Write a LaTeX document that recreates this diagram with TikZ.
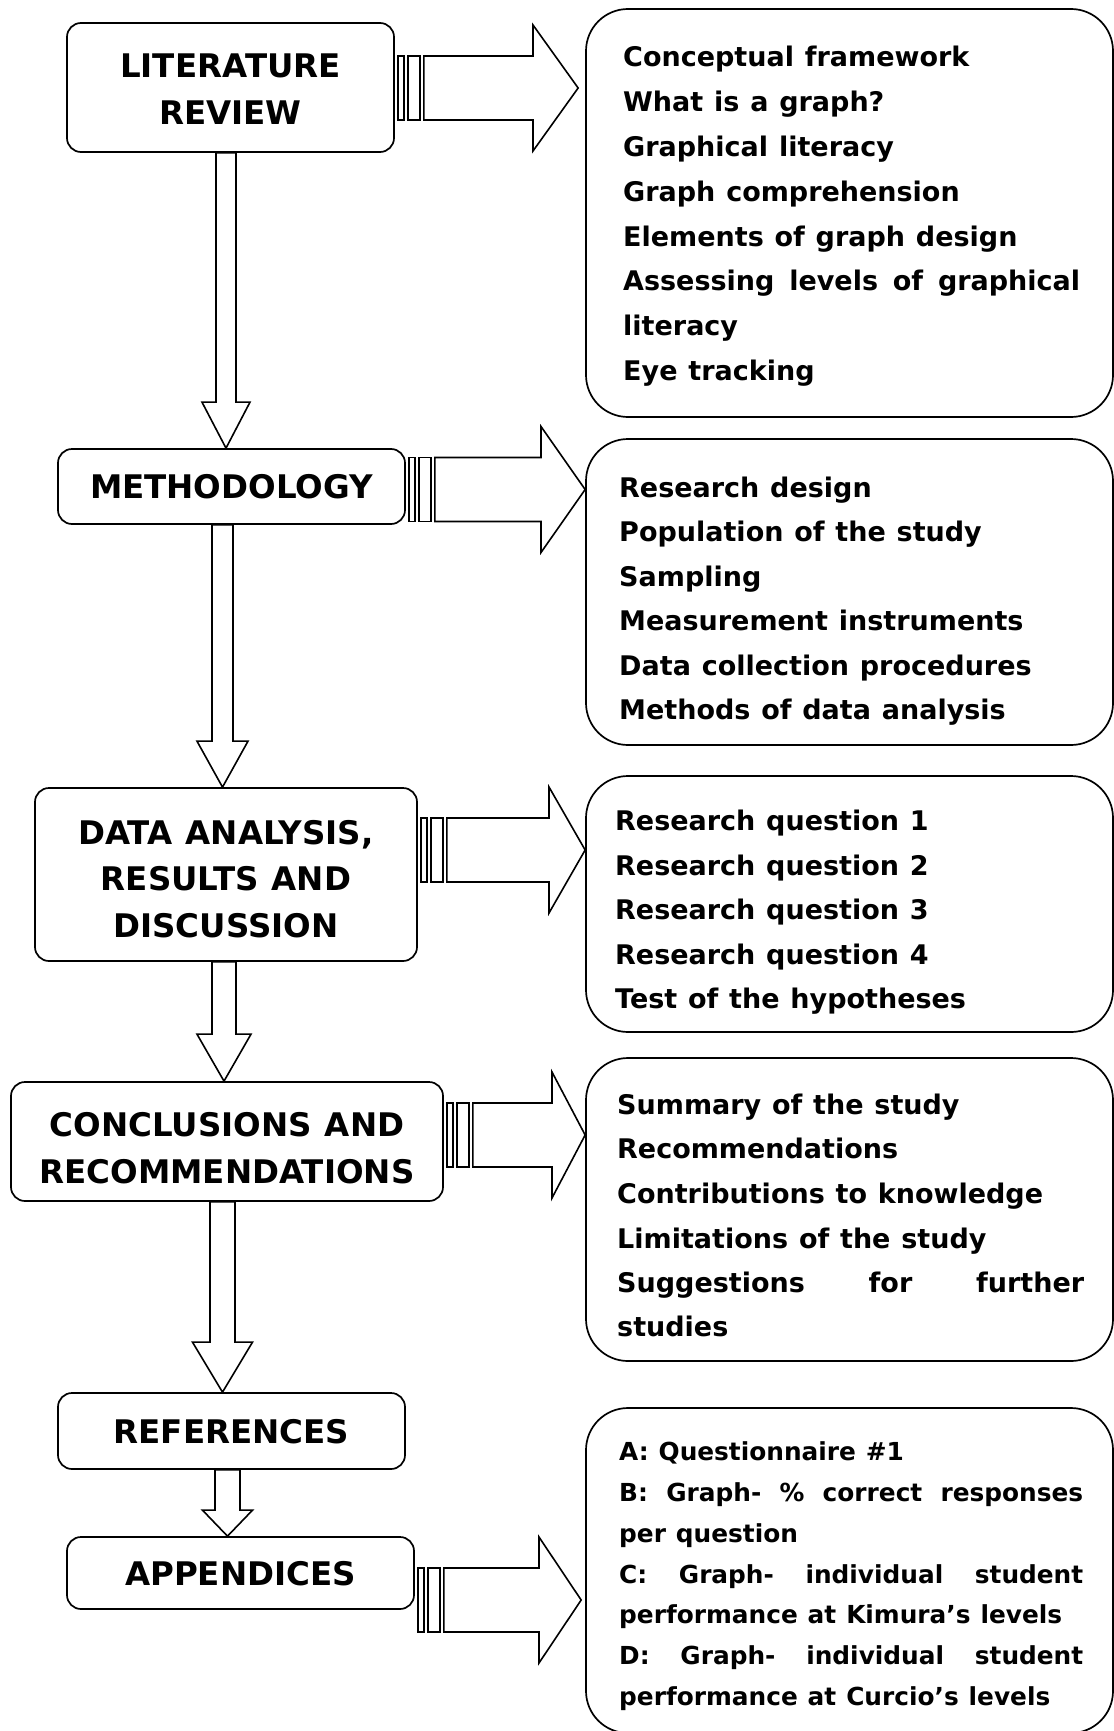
\documentclass[tikz,border=0pt]{standalone}
\usepackage{fontspec}
\setmainfont[WordSpace=1.15]{DejaVu Sans}
\usetikzlibrary{calc}
\tikzset{
  lbox/.style={draw, line width=1.7pt, rounded corners=14pt, fill=white, inner sep=0pt},
  rbox/.style={draw, line width=1.7pt, rounded corners=42pt, fill=white, inner sep=0pt},
  ltext/.style={align=center, inner sep=0pt, font=\bfseries\fontsize{32.5}{46.5}\selectfont},
  rtext/.style={anchor=base west, inner sep=0pt, font=\bfseries\fontsize{27}{30}\selectfont},
  rtexts/.style={anchor=base west, inner sep=0pt, font=\bfseries\fontsize{24.8}{30}\selectfont},
  blk/.style={draw, line width=1.6pt, fill=white, line join=miter},
}
% down block arrow: from, to, centre x, half shaft, half head, head length
\newcommand\downblock[6]{%
  \draw[blk] let \p1=(#1.south), \p2=(#2.north) in
    ({(#3-#4)*1pt},\y1) -- ({(#3-#4)*1pt},{\y2+#6*1pt}) -- ({(#3-#5)*1pt},{\y2+#6*1pt})
    -- ({#3*1pt},\y2) -- ({(#3+#5)*1pt},{\y2+#6*1pt}) -- ({(#3+#4)*1pt},{\y2+#6*1pt})
    -- ({(#3+#4)*1pt},\y1) -- cycle;}
% side striped block arrow: from, to, centre y, head base x, tip gap
\newcommand\sideblock[5]{%
  \draw[blk] let \p1=(#1.east) in
    ({\x1+3pt},{(32-#3)*1pt}) rectangle ({\x1+9pt},{(-32-#3)*1pt});
  \draw[blk] let \p1=(#1.east) in
    ({\x1+13pt},{(32-#3)*1pt}) rectangle ({\x1+25pt},{(-32-#3)*1pt});
  \draw[blk] let \p1=(#1.east), \p2=(#2.west) in
    ({\x1+29pt},{(32-#3)*1pt}) -- ({#4*1pt},{(32-#3)*1pt}) -- ({#4*1pt},{(63-#3)*1pt})
    -- ({\x2-#5*1pt},{-#3*1pt}) -- ({#4*1pt},{(-63-#3)*1pt}) -- ({#4*1pt},{(-32-#3)*1pt})
    -- ({\x1+29pt},{(-32-#3)*1pt}) -- cycle;}
\begin{document}
\begin{tikzpicture}[x=1pt,y=-1pt]
\useasboundingbox (0,0) rectangle (1113,1731);
\fill[white] (0,0) rectangle (1113,1731);

% left boxes
\node[lbox, minimum width=327, minimum height=129] (L1) at (230.5,87.5) {};
\node[lbox, minimum width=347, minimum height=75]  (L2) at (231.5,486.5) {};
\node[lbox, minimum width=382, minimum height=173] (L3) at (226,874.5) {};
\node[lbox, minimum width=432, minimum height=119] (L4) at (227,1141.5) {};
\node[lbox, minimum width=347, minimum height=76]  (L5) at (231.5,1431) {};
\node[lbox, minimum width=347, minimum height=72]  (L6) at (240.5,1573) {};

% right boxes
\node[rbox, minimum width=527, minimum height=408] (R1) at (849.5,213) {};
\node[rbox, minimum width=527, minimum height=306] (R2) at (849.5,592) {};
\node[rbox, minimum width=527, minimum height=256] (R3) at (849.5,904) {};
\node[rbox, minimum width=527, minimum height=303] (R4) at (849.5,1209.5) {};
\node[rbox, minimum width=527, minimum height=325] (R6) at (849.5,1570.5) {};

% left labels
\node[ltext] (L1t) at (230.5,89) {LITERATURE\\REVIEW};
\node[ltext] (L2t) at (231.5,487) {METHODOLOGY};
\node[ltext] (L3t) at (226,879) {DATA ANALYSIS,\\RESULTS AND\\DISCUSSION};
\node[ltext] (L4t) at (227,1148) {CONCLUSIONS AND\\RECOMMENDATIONS};
\node[ltext] (L5t) at (231.5,1432) {REFERENCES};
\node[ltext] (L6t) at (240.5,1574) {APPENDICES};

% down arrows
\downblock{L1}{L2}{226}{10}{24}{46}
\downblock{L2}{L3}{222.5}{10.5}{25.5}{46}
\downblock{L3}{L4}{224}{12}{27}{47}
\downblock{L4}{L5}{222.5}{12.5}{30}{50}
\downblock{L5}{L6}{227.5}{12.5}{25}{26}

% side arrows
\sideblock{L1}{R1}{88}{533}{7}
\sideblock{L2}{R2}{489.5}{541}{0}
\sideblock{L3}{R3}{850}{549}{0}
\sideblock{L4}{R4}{1135}{552}{0}
\sideblock{L6}{R6}{1600}{539}{4}

% right texts
\node[rtext] (R1a) at (623,67) {Conceptual framework};
\node[rtext] (R1b) at (623,111.7) {What is a graph?};
\node[rtext] (R1c) at (623,156.4) {Graphical literacy};
\node[rtext] (R1d) at (623,201) {Graph comprehension};
\node[rtext] (R1e) at (623,246) {Elements of graph design};
\node[rtext] (R1f) at (623,290) {\makebox[457pt][s]{Assessing levels of graphical}};
\node[rtext] (R1g) at (623,335) {literacy};
\node[rtext] (R1h) at (623,380) {Eye tracking};

\node[rtext] (R2a) at (619,497) {Research design};
\node[rtext] (R2b) at (619,541.5) {Population of the study};
\node[rtext] (R2c) at (619,586) {Sampling};
\node[rtext] (R2d) at (619,630) {Measurement instruments};
\node[rtext] (R2e) at (619,675) {Data collection procedures};
\node[rtext] (R2f) at (619,719) {Methods of data analysis};

\node[rtext] (R3a) at (615,830) {Research question 1};
\node[rtext] (R3b) at (615,875) {Research question 2};
\node[rtext] (R3c) at (615,919) {Research question 3};
\node[rtext] (R3d) at (615,964) {Research question 4};
\node[rtext] (R3e) at (615,1008) {Test of the hypotheses};

\node[rtext] (R4a) at (617,1114) {Summary of the study};
\node[rtext] (R4b) at (617,1158) {Recommendations};
\node[rtext] (R4c) at (617,1203) {Contributions to knowledge};
\node[rtext] (R4d) at (617,1248) {Limitations of the study};
\node[rtext] (R4e) at (617,1292) {\makebox[467pt][s]{Suggestions for further}};
\node[rtext] (R4f) at (617,1336) {studies};

\node[rtexts] (R6a) at (619,1460) {A: Questionnaire \#1};
\node[rtexts] (R6b) at (619,1501) {\makebox[464pt][s]{B: Graph- \% correct responses}};
\node[rtexts] (R6c) at (619,1542) {per question};
\node[rtexts] (R6d) at (619,1583) {\makebox[464pt][s]{C: Graph- individual student}};
\node[rtexts] (R6e) at (619,1623) {performance at Kimura’s levels};
\node[rtexts] (R6f) at (619,1664) {\makebox[464pt][s]{D: Graph- individual student}};
\node[rtexts] (R6g) at (619,1705) {performance at Curcio’s levels};
\end{tikzpicture}
\end{document}
